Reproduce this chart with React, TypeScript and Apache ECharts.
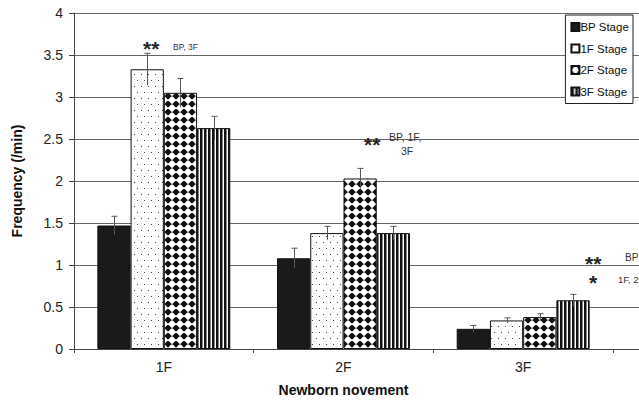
import React, { useEffect, useRef } from "react";
import * as echarts from "echarts";

const categories = ["1F", "2F", "3F"];
const seriesNames = ["BP Stage", "1F Stage", "2F Stage", "3F Stage"];
const bpValues = [1.47, 1.08, 0.24];
const f1Values = [3.33, 1.38, 0.34];
const f2Values = [3.05, 2.03, 0.38];
const f3Values = [2.63, 1.38, 0.58];
const bpErr = [0.11, 0.12, 0.04];
const f1Err = [0.19, 0.08, 0.03];
const f2Err = [0.17, 0.12, 0.04];
const f3Err = [0.14, 0.08, 0.07];
const yTicks = [0, 0.5, 1, 1.5, 2, 2.5, 3, 3.5, 4];

const FONT = "'Liberation Sans', Arial, Helvetica, sans-serif";

function makePattern(kind: string) {
  const c = document.createElement("canvas");
  let w = 8, h = 8;
  if (kind === "dots") { w = 7; h = 12; }
  if (kind === "diamond") { w = 8; h = 8; }
  if (kind === "stripes") { w = 4; h = 4; }
  c.width = w; c.height = h;
  const ctx = c.getContext("2d")!;
  if (kind === "dots") {
    ctx.fillStyle = "#ffffff"; ctx.fillRect(0, 0, w, h);
    ctx.fillStyle = "#444444";
    ctx.fillRect(1, 2, 1, 1);
    ctx.fillRect(4, 8, 1, 1);
  } else if (kind === "diamond") {
    ctx.fillStyle = "#111111"; ctx.fillRect(0, 0, w, h);
    ctx.fillStyle = "#ffffff";
    ctx.beginPath();
    ctx.moveTo(4, -0.3); ctx.lineTo(8.3, 4); ctx.lineTo(4, 8.3); ctx.lineTo(-0.3, 4);
    ctx.closePath(); ctx.fill();
    ctx.fillStyle = "#111111";
    ctx.fillRect(3.5, 0, 1, 0.6);
  } else if (kind === "stripes") {
    ctx.fillStyle = "#ffffff"; ctx.fillRect(0, 0, w, h);
    ctx.fillStyle = "#111111"; ctx.fillRect(0, 0, 2, h);
    ctx.fillStyle = "#888888"; ctx.fillRect(2, 0, 1, h);
  }
  return { image: c.toDataURL(), repeat: "repeat", imageWidth: w, imageHeight: h } as any;
}

export default function App() {
  const ref = useRef<HTMLDivElement>(null);
  useEffect(() => {
    if (!ref.current) return;
    const chart = echarts.init(ref.current, null, { renderer: "svg" });
    const values = [bpValues, f1Values, f2Values, f3Values];
    const errs = [bpErr, f1Err, f2Err, f3Err];
    const colors: any[] = ["#1a1a1a", makePattern("dots"), makePattern("diamond"), makePattern("stripes")];
    const gap = 0.26;
    const errData: any[] = [];
    values.forEach((vals, si) => vals.forEach((v, ci) => errData.push([ci, si, v, errs[si][ci]])));

    const bars = seriesNames.map((name, si) => ({
      name,
      type: "bar",
      data: values[si],
      barGap: "0%",
      barCategoryGap: gap * 100 + "%",
      itemStyle: { color: colors[si], borderColor: "#111", borderWidth: 1 },
      z: 2,
    }));

    chart.setOption({
      animation: false,
      textStyle: { fontFamily: FONT },
      grid: { left: 74, right: 26, top: 13, bottom: 55 },
      legend: {
        orient: "vertical",
        right: 6,
        top: 15,
        itemWidth: 8,
        itemHeight: 8,
        itemGap: 9.5,
        padding: [6, 4, 6, 5],
        backgroundColor: "#fff",
        borderColor: "#222",
        borderWidth: 1,
        borderRadius: 0,
        textStyle: { fontFamily: FONT, fontSize: 11.5, color: "#111", padding: [0, 0, 0, -4] },
        icon: "rect",
        data: seriesNames,
        z: 10,
      },
      xAxis: {
        type: "category",
        data: categories,
        name: "Newborn novement",
        nameLocation: "middle",
        nameGap: 34,
        nameTextStyle: { fontFamily: FONT, fontSize: 14, fontWeight: "bold", color: "#111" },
        axisLine: { lineStyle: { color: "#444", width: 1 } },
        axisTick: { show: true, length: 4, lineStyle: { color: "#444" } },
        axisLabel: { fontFamily: FONT, fontSize: 14, color: "#222", margin: 11 },
      },
      yAxis: {
        type: "value",
        min: 0,
        max: 4,
        interval: 0.5,
        name: "Frequency (/min)",
        nameLocation: "middle",
        nameGap: 50,
        nameTextStyle: { fontFamily: FONT, fontSize: 14, fontWeight: "bold", color: "#111" },
        axisLine: { show: true, lineStyle: { color: "#444", width: 1 } },
        axisTick: { show: true, length: 5, lineStyle: { color: "#444" } },
        axisLabel: {
          fontFamily: FONT, fontSize: 14, color: "#222", margin: 11,
          formatter: (v: number) => (yTicks.includes(v) ? String(v) : ""),
        },
        splitLine: { show: true, lineStyle: { color: "#666", width: 1 } },
      },
      series: [
        ...bars,
        {
          type: "custom",
          data: errData,
          z: 5,
          encode: { x: 0, y: 2 },
          renderItem: (params: any, api: any) => {
            const ci = api.value(0);
            const si = api.value(1);
            const v = api.value(2);
            const e = api.value(3);
            const catW = api.size([1, 0])[0];
            const bw = (catW * (1 - gap)) / 4;
            const center = api.coord([ci, v]);
            const x = Math.round(center[0] + (si - 1.5) * bw) + 0.5;
            const top = api.coord([ci, v + e])[1];
            const bot = api.coord([ci, v - e])[1];
            const st = { stroke: "#555", lineWidth: 1 };
            return {
              type: "group",
              children: [
                { type: "line", shape: { x1: x, y1: bot, x2: x, y2: top }, style: st },
                { type: "line", shape: { x1: x - 3, y1: top, x2: x + 3, y2: top }, style: st },
              ],
            };
          },
        },
      ],
    });

    // extend gridlines and x axis line to the right edge of the page, as in the reference
    const ext: any[] = [];
    yTicks.forEach((t) => {
      const p = chart.convertToPixel({ yAxisIndex: 0 } as any, t) as any;
      ext.push({
        type: "line",
        shape: { x1: 613, y1: Math.round(p) + 0.5, x2: 639, y2: Math.round(p) + 0.5 },
        style: { stroke: t === 0 ? "#444" : "#666", lineWidth: 1 },
        z: 0,
      });
    });

    const star = (x: number, y: number, s: string) => ({
      type: "text", x, y, z: 20,
      style: {
        text: s, fontFamily: FONT, fontSize: 21, fontWeight: "bold", fill: "#222",
        textVerticalAlign: "middle", lineHeight: 10,
      },
    });
    const note = (x: number, y: number, s: string, fs: number) => ({
      type: "text", x, y, z: 20,
      style: { text: s, fontFamily: FONT, fontSize: fs, fill: "#333", textVerticalAlign: "middle" },
    });

    chart.setOption({
      graphic: [
        ...ext,
        star(143, 48, "**"),
        note(173, 47, "BP, 3F", 8.5),
        star(364, 144, "**"),
        note(389, 137, "BP, 1F,", 10.5),
        note(401, 151, "3F", 10.5),
        star(585, 263, "**"),
        note(625, 257, "BP", 10),
        star(589, 282, "*"),
        note(618, 279, "1F, 2F", 9.5),
      ],
    });

    return () => chart.dispose();
  }, []);
  return <div ref={ref} style={{ width: 639, height: 404, position: "absolute", left: 0, top: 0 }} />;
}
